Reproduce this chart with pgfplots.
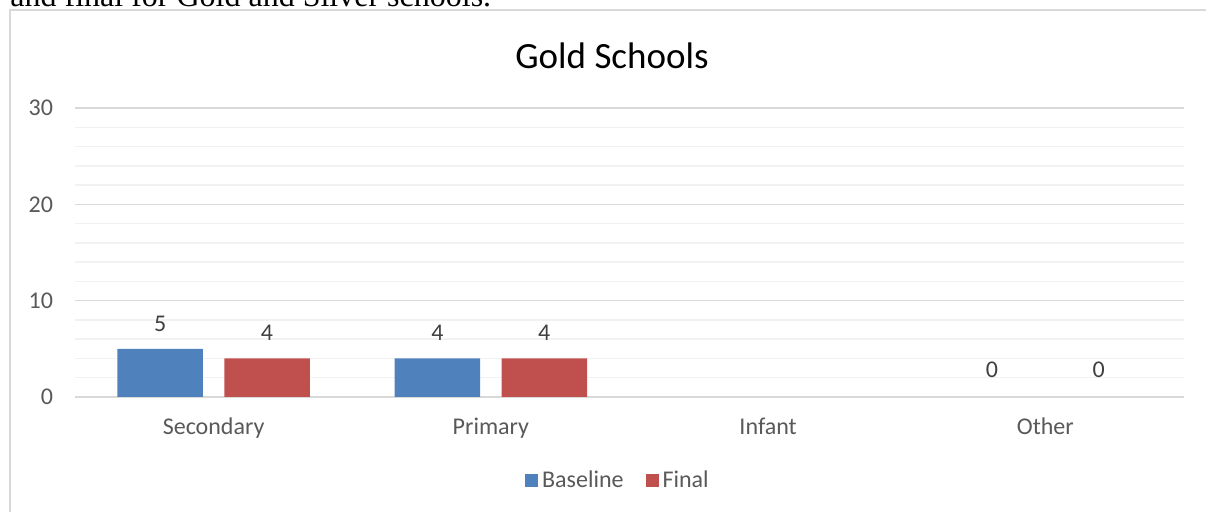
\documentclass[border=0pt]{standalone}
\usepackage{pgfplots}
\pgfplotsset{compat=1.18}
\usepackage{fontspec}
\setmainfont{Carlito}
\newfontfamily\serifff{Liberation Serif}
\definecolor{gridmaj}{HTML}{D9D9D9}
\definecolor{gridmin}{HTML}{F2F2F2}
\definecolor{blueb}{HTML}{4F81BD}
\definecolor{redb}{HTML}{C0504D}
\definecolor{tickc}{HTML}{595959}
\definecolor{labc}{HTML}{404040}
\begin{document}
\begin{tikzpicture}
\useasboundingbox (0,0) rectangle (603pt,256pt);
\node[overlay, anchor=base west, inner sep=0, font=\serifff\fontsize{16}{18}\selectfont] at (5pt,252.5pt) {and final for Gold and Silver schools.};
\draw[overlay, gridmaj, line width=1pt] (5pt,-10pt) rectangle (620pt,251pt);
\node[anchor=base, inner sep=0, font=\fontsize{18.5}{20}\selectfont, text=black] at (306pt,221.5pt) {Gold Schools};
\begin{axis}[
  at={(37.5pt,57.5pt)}, anchor=south west,
  scale only axis, width=554.5pt, height=144.5pt,
  xmin=-0.5, xmax=3.5, ymin=0, ymax=30,
  ybar, bar width=42.75pt,
  xtick={0,1,2,3}, xticklabels={Secondary,Primary,Infant,Other},
  ytick={0,10,20,30}, minor ytick={2,4,...,28},
  ymajorgrids, yminorgrids,
  major grid style={gridmaj, line width=0.75pt},
  minor grid style={gridmin, line width=0.75pt},
  axis line style={draw=none},
  major tick length=0pt, minor tick length=0pt,
  tick label style={font=\fontsize{12}{14}\selectfont, text=tickc},
  /pgf/number format/assume math mode=true,
  xticklabel style={anchor=base, yshift=-19pt},
  yticklabel style={anchor=east, xshift=-7.5pt},
  nodes near coords,
  every node near coord/.append style={font=\fontsize{12}{14}\selectfont, text=labc},
  legend columns=2,
  legend style={at={(0.4905,-0.2907)}, anchor=center, draw=none, fill=none,
    font=\fontsize{12}{14}\selectfont, text=tickc,
    /tikz/every even column/.append style={column sep=9pt}},
  legend image code/.code={\fill[#1] (-3pt,-3.25pt) rectangle (3.5pt,3.25pt);},
]
\addplot[fill=blueb, draw=none, bar shift=-26.7pt,
  every node near coord/.append style={anchor=base, yshift=8.75pt}]
  coordinates {(0,5) (1,4)};
\addplot[fill=redb, draw=none, bar shift=26.7pt,
  every node near coord/.append style={anchor=base, yshift=8.75pt}]
  coordinates {(0,4) (1,4)};
\addplot[forget plot, fill=none, draw=none, bar shift=-26.7pt,
  every node near coord/.append style={anchor=base, yshift=9.5pt}]
  coordinates {(3,0)};
\addplot[forget plot, fill=none, draw=none, bar shift=26.7pt,
  every node near coord/.append style={anchor=base, yshift=9.5pt}]
  coordinates {(3,0)};
\legend{Baseline,Final}
\end{axis}
\end{tikzpicture}
\end{document}
